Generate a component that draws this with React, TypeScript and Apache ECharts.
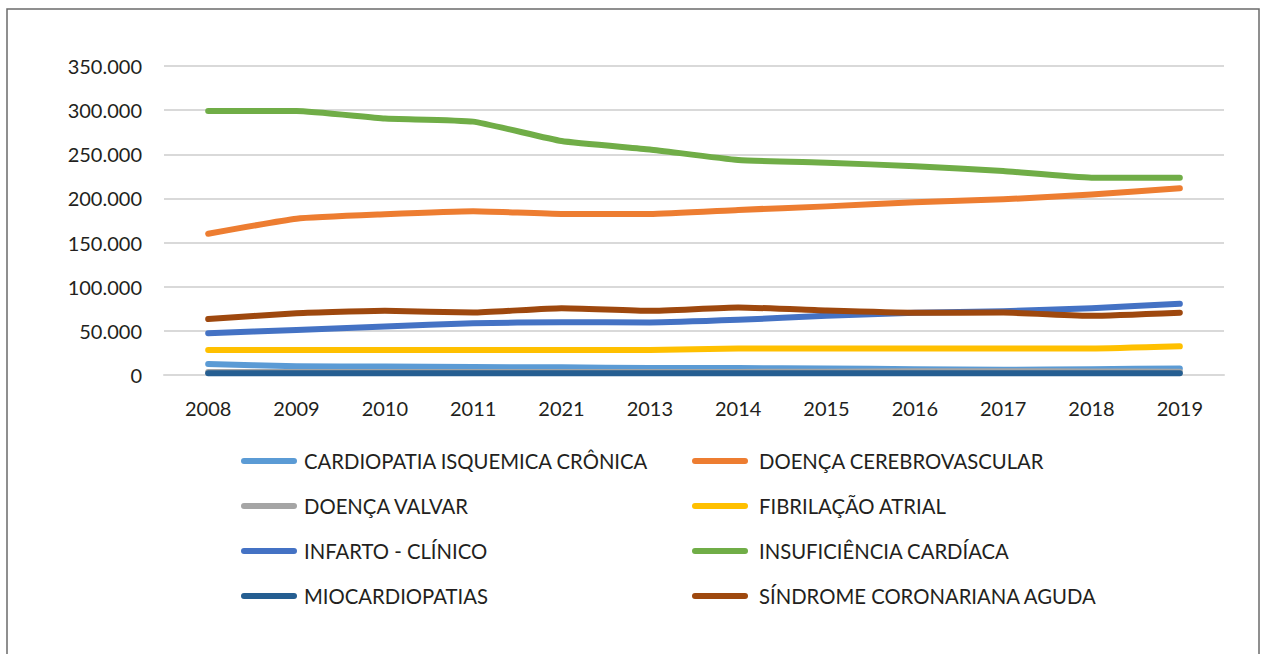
import React, { useEffect, useRef } from "react";
import * as echarts from "echarts";

const categories = ["2008", "2009", "2010", "2011", "2021", "2013", "2014", "2015", "2016", "2017", "2018", "2019"];

const cardiopatiaIsquemica = [12500, 10000, 9500, 9000, 8700, 8000, 7800, 7500, 6500, 6000, 6500, 7500];
const doencaCerebrovascular = [160000, 177000, 182000, 185500, 182500, 182500, 187000, 191000, 195800, 199000, 204500, 211500];
const doencaValvar = [3500, 3500, 3500, 3500, 3500, 3500, 3500, 3800, 4200, 4200, 4000, 3800];
const fibrilacaoAtrial = [28400, 28400, 28400, 28400, 28400, 28400, 30000, 30000, 30000, 30000, 30000, 32500];
const infartoClinico = [47300, 51000, 55000, 58700, 59800, 59500, 62500, 67000, 70500, 72300, 75700, 80700];
const insuficienciaCardiaca = [299000, 299000, 290500, 287000, 265000, 255500, 243500, 240500, 236500, 231000, 223500, 223500];
const miocardiopatias = [2000, 2000, 2000, 2000, 2000, 2000, 2000, 2000, 2000, 2000, 2000, 2000];
const sindromeCoronariana = [63300, 70000, 72700, 70700, 75700, 72700, 76500, 73000, 70500, 70700, 67000, 70500];

const yTicks = { min: 0, max: 350000, interval: 50000 };

const seriesDefs = [
  { name: "CARDIOPATIA ISQUEMICA CRÔNICA", data: cardiopatiaIsquemica, color: "#5b9bd5" },
  { name: "DOENÇA CEREBROVASCULAR", data: doencaCerebrovascular, color: "#ed7d31" },
  { name: "DOENÇA VALVAR", data: doencaValvar, color: "#a5a5a5" },
  { name: "FIBRILAÇÃO ATRIAL", data: fibrilacaoAtrial, color: "#ffc000" },
  { name: "INFARTO - CLÍNICO", data: infartoClinico, color: "#4472c4" },
  { name: "INSUFICIÊNCIA CARDÍACA", data: insuficienciaCardiaca, color: "#70ad47" },
  { name: "MIOCARDIOPATIAS", data: miocardiopatias, color: "#255e91" },
  { name: "SÍNDROME CORONARIANA AGUDA", data: sindromeCoronariana, color: "#9e480e" },
];

const leftLegend = ["CARDIOPATIA ISQUEMICA CRÔNICA", "DOENÇA VALVAR", "INFARTO - CLÍNICO", "MIOCARDIOPATIAS"];
const rightLegend = ["DOENÇA CEREBROVASCULAR", "FIBRILAÇÃO ATRIAL", "INSUFICIÊNCIA CARDÍACA", "SÍNDROME CORONARIANA AGUDA"];

const FONT = "Lato";
const TEXT = "#231f20";

function fmt(v: number): string {
  if (v === 0) return "0";
  const s = String(Math.round(v));
  return s.replace(/\B(?=(\d{3})+(?!\d))/g, ".");
}

const pill = "path://M3,0 L53,0 A3,3 0 0 1 53,6 L3,6 A3,3 0 0 1 3,0 Z";

export default function App() {
  const ref = useRef<HTMLDivElement>(null);
  useEffect(() => {
    if (!ref.current) return;
    const chart = echarts.init(ref.current, undefined, { renderer: "svg" });
    const legendCommon = {
      orient: "vertical" as const,
      padding: 0,
      itemWidth: 56,
      itemHeight: 6,
      itemGap: 25,
      icon: pill,
      selectedMode: false,
    };
    chart.setOption({
      animation: false,
      backgroundColor: "#ffffff",
      graphic: [
        {
          type: "rect",
          shape: { x: 7, y: 9, width: 1252, height: 700 },
          style: { fill: "none", stroke: "#6b6b6b", lineWidth: 1.5 },
          silent: true,
        },
      ],
      grid: { left: 164, right: 43, top: 66, bottom: 279, containLabel: false },
      legend: [
        {
          ...legendCommon,
          left: 241,
          top: 451,
          data: leftLegend,
          textStyle: { fontFamily: FONT, fontSize: 20.3, color: TEXT, lineHeight: 20, padding: [0, 0, 0, 2] },
        },
        {
          ...legendCommon,
          left: 692,
          top: 451,
          data: rightLegend,
          textStyle: { fontFamily: FONT, fontSize: 20.3, color: TEXT, lineHeight: 20, padding: [0, 0, 0, 6] },
        },
      ],
      xAxis: {
        type: "category",
        data: categories,
        boundaryGap: true,
        axisTick: { show: false },
        axisLine: { show: true, lineStyle: { color: "#d9d9d9", width: 2 } },
        axisLabel: { fontFamily: FONT, fontSize: 20, color: TEXT, margin: 23 },
      },
      yAxis: {
        type: "value",
        min: yTicks.min,
        max: yTicks.max,
        interval: yTicks.interval,
        axisLine: { show: false },
        axisTick: { show: false },
        splitLine: { lineStyle: { color: "#d9d9d9", width: 2 } },
        axisLabel: { fontFamily: FONT, fontSize: 20, color: TEXT, margin: 22, formatter: (v: number) => fmt(v) },
      },
      series: seriesDefs.map((s) => ({
        name: s.name,
        type: "line",
        data: s.data,
        smooth: 0.15,
        showSymbol: false,
        symbol: "none",
        color: s.color,
        lineStyle: { color: s.color, width: 6, cap: "round", join: "round" },
        itemStyle: { color: s.color },
      })),
    });
    return () => chart.dispose();
  }, []);
  return (
    <div
      ref={ref}
      style={{ position: "absolute", left: 0, top: 0, width: 1267, height: 654, background: "#fff" }}
    />
  );
}
